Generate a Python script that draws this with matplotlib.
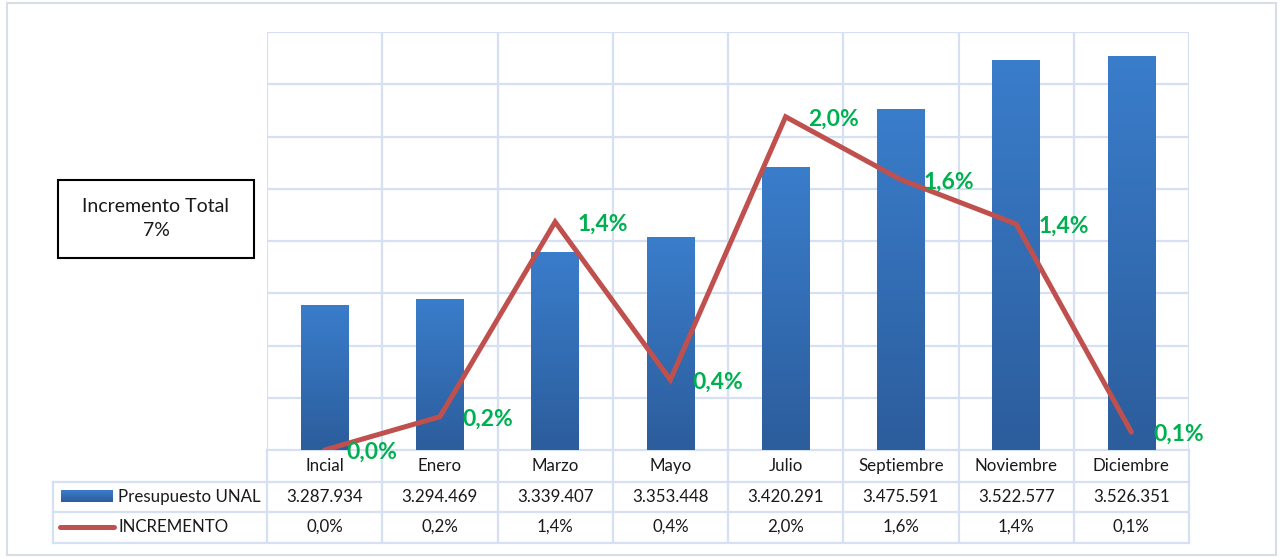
import matplotlib
matplotlib.use("Agg")
import matplotlib.pyplot as plt
import numpy as np
from matplotlib.colors import LinearSegmentedColormap
from matplotlib.patches import Rectangle

plt.rcParams['font.family'] = ['Lato', 'DejaVu Sans']

categories = ["Incial", "Enero", "Marzo", "Mayo", "Julio", "Septiembre", "Noviembre", "Diciembre"]
presupuesto = [3287934, 3294469, 3339407, 3353448, 3420291, 3475591, 3522577, 3526351]
incremento = [0.000, 0.199, 1.364, 0.420, 1.993, 1.617, 1.352, 0.107]  # percent
series_names = ["Presupuesto UNAL", "INCREMENTO"]
total_label = "Incremento Total\n7%"

W, H = 1282, 558
fig = plt.figure(figsize=(W / 100, H / 100), dpi=100)

# pixel layout
L, R, T, B = 267, 1189, 32, 450
ax = fig.add_axes([L / W, 1 - B / H, (R - L) / W, (B - T) / H])
n = len(categories)
x = np.arange(n)
ymin, ymax = 3150000, 3550000
grid_c = "#D5E1F2"

# gradient bars
cmap = LinearSegmentedColormap.from_list("bg", ["#2C5D9C", "#3A7DCB"])
grad = np.linspace(0, 1, 256).reshape(-1, 1)
bw = 0.41
for xi, v in zip(x, presupuesto):
    ax.imshow(grad, extent=(xi - bw / 2, xi + bw / 2, ymin, v), origin="lower",
              cmap=cmap, aspect="auto", zorder=2, interpolation="bicubic")
ax.set_xlim(-0.5, n - 0.5)
ax.set_ylim(ymin, ymax)
ax.set_yticks(np.arange(ymin, ymax + 1, 50000))
ax.set_xticks(np.arange(-0.5, n, 1.0))
ax.grid(True, color=grid_c, lw=1.6, zorder=0)
for s in ax.spines.values():
    s.set_visible(False)

ax2 = ax.twinx()
ax2.set_ylim(0, 0.025)
ax2.axis("off")
ax.tick_params(left=False, right=False, bottom=False, labelleft=False,
               labelright=False, labelbottom=False)
inc_frac = [p / 100 for p in incremento]
ax2.plot(x, inc_frac, color="#C0504D", lw=3.6, solid_capstyle="round",
         solid_joinstyle="miter", zorder=3)
for xi, p, f in zip(x, incremento, inc_frac):
    ax2.annotate(f"{p:.1f}%".replace(".", ","), (xi, f), xytext=(16, -1.5),
                 textcoords="offset points", ha="left", va="center",
                 color="#00B050", fontweight="bold", fontsize=16.5, annotation_clip=False)

# overlay in pixel coordinates
ov = fig.add_axes([0, 0, 1, 1], zorder=-1)
ov.set_xlim(0, W)
ov.set_ylim(H, 0)
ov.axis("off")
ov.add_patch(Rectangle((7, 3), 1269, 552, fill=False, ec="#D9DEE6", lw=1.5))

bounds = np.linspace(L, R, n + 1)
rows = [450, 482, 512, 543]
TL = 53
ov.plot([L, R], [rows[0], rows[0]], color=grid_c, lw=1.6)
for yy in rows[1:]:
    ov.plot([TL, R], [yy, yy], color=grid_c, lw=1.6)
ov.plot([TL, TL], [rows[1], rows[3]], color=grid_c, lw=1.6)
for bx in bounds:
    ov.plot([bx, bx], [rows[0], rows[3]], color=grid_c, lw=1.6)

tc = "#1A1A1A"
fs = 12.2
centers = (bounds[:-1] + bounds[1:]) / 2
for cx, cat, v, p in zip(centers, categories, presupuesto, incremento):
    ov.text(cx, 466, cat, ha="center", va="center", fontsize=fs, color=tc)
    ov.text(cx, 497, f"{v:,}".replace(",", "."), ha="center", va="center", fontsize=fs, color=tc)
    ov.text(cx, 527, f"{p:.1f}%".replace(".", ","), ha="center", va="center", fontsize=fs, color=tc)

# legend keys
fig_keys = fig.add_axes([0, 0, 1, 1], zorder=5)
fig_keys.set_xlim(0, W)
fig_keys.set_ylim(H, 0)
fig_keys.axis("off")
fig_keys.imshow(grad[::-1], extent=(61, 113, 502, 490), cmap=cmap, aspect="auto")
fig_keys.set_xlim(0, W)
fig_keys.set_ylim(H, 0)
fig_keys.plot([60, 114], [527, 527], color="#C0504D", lw=3.6, solid_capstyle="round")
fig_keys.text(118, 497, series_names[0], ha="left", va="center", fontsize=fs, color=tc)
fig_keys.text(118, 527, series_names[1], ha="left", va="center", fontsize=fs, color=tc)

# total box
fig_keys.add_patch(Rectangle((58, 180), 196, 78, fill=False, ec="black", lw=1.5))
fig_keys.text(156, 218, total_label, ha="center", va="center", fontsize=14,
              color=tc, linespacing=1.5)

fig.savefig("out.png", dpi=100, facecolor="white")
